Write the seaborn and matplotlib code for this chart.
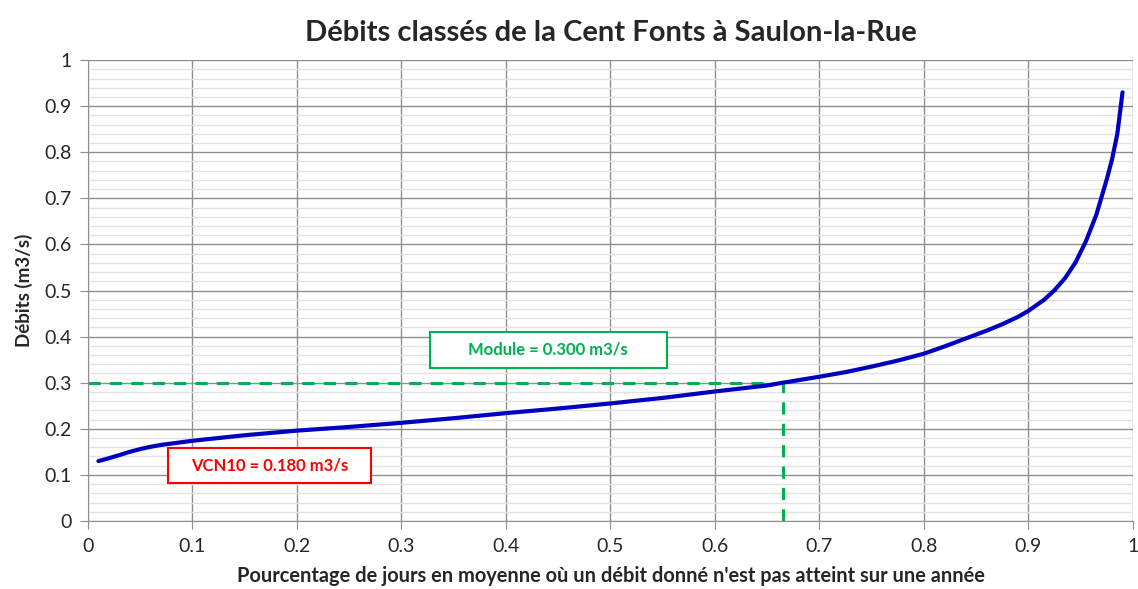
import seaborn as sns
import matplotlib.pyplot as plt
import pandas as pd
import numpy as np
from matplotlib.patches import Rectangle

# Débits classés (fraction of days, discharge m3/s)
frequence = [0.01, 0.02, 0.03, 0.04, 0.05, 0.06, 0.07, 0.08, 0.10, 0.125,
             0.15, 0.20, 0.25, 0.30, 0.35, 0.40, 0.45, 0.50, 0.55, 0.60,
             0.65, 0.665, 0.70, 0.725, 0.75, 0.775, 0.80, 0.82, 0.84, 0.86,
             0.875, 0.89, 0.90, 0.915, 0.925, 0.935, 0.945, 0.955, 0.965,
             0.975, 0.98, 0.985, 0.99]
debit = [0.130, 0.136, 0.143, 0.150, 0.156, 0.161, 0.165, 0.168, 0.174, 0.180,
         0.186, 0.196, 0.204, 0.213, 0.223, 0.234, 0.244, 0.255, 0.267, 0.281,
         0.294, 0.300, 0.313, 0.323, 0.335, 0.348, 0.363, 0.379, 0.396, 0.413,
         0.427, 0.443, 0.456, 0.480, 0.501, 0.527, 0.561, 0.607, 0.665,
         0.742, 0.785, 0.840, 0.930]

module = 0.300
module_freq = 0.665
vcn10_label = "VCN10 = 0.180 m3/s"
module_label = "Module = 0.300 m3/s"

FONT = ["Lato", "DejaVu Sans"]


def main():
    sns.set_style("white")
    plt.rcParams["font.family"] = FONT

    df = pd.DataFrame({"freq": frequence, "debit": debit})

    fig = plt.figure(figsize=(11.38, 5.89), dpi=100)
    ax = fig.add_axes([0.0773, 0.1155, 0.9183, 0.7825])

    # grid
    ax.set_xticks(np.arange(0, 1.01, 0.1))
    ax.set_yticks(np.arange(0, 1.01, 0.1))
    ax.set_yticks(np.arange(0, 1.001, 0.02), minor=True)
    ax.grid(True, which="major", color="#8f8f8f", linewidth=1.0)
    ax.grid(True, which="minor", axis="y", color="#e2e2e2", linewidth=1.0)
    ax.set_axisbelow(True)

    # module reference lines
    ax.plot([0, module_freq], [module, module], color="#00b050",
            linestyle=(0, (4, 3)), linewidth=2.2)
    ax.plot([module_freq, module_freq], [0, module], color="#00b050",
            linestyle=(0, (4, 3)), linewidth=2.2)

    sns.lineplot(data=df, x="freq", y="debit", ax=ax, color="#0000c0",
                 linewidth=3, estimator=None, sort=False,
                 solid_joinstyle="round", solid_capstyle="round")

    ax.set_xlim(0, 1)
    ax.set_ylim(0, 1)
    labels = ["0", "0.1", "0.2", "0.3", "0.4", "0.5", "0.6",
              "0.7", "0.8", "0.9", "1"]
    ax.set_xticklabels(labels)
    ax.set_yticklabels(labels)
    ax.tick_params(axis="both", which="major", labelsize=14, length=6,
                   color="#8f8f8f", direction="out", pad=6)
    ax.tick_params(axis="y", which="minor", length=0)
    ax.tick_params(axis="both", which="both", left=True, bottom=True)
    for side in ["top", "right"]:
        ax.spines[side].set_visible(False)
    for side in ["left", "bottom"]:
        ax.spines[side].set_color("#8f8f8f")

    ax.set_title("Débits classés de la Cent Fonts à Saulon-la-Rue",
                 fontsize=21, fontweight="bold", pad=14)
    ax.set_xlabel("Pourcentage de jours en moyenne où un débit donné n'est pas atteint sur une année",
                  fontsize=14.4, fontweight="bold", labelpad=8)
    ax.set_ylabel("Débits (m3/s)", fontsize=13.5, fontweight="bold", labelpad=8)

    # annotation boxes
    ax.add_patch(Rectangle((0.327, 0.332), 0.227, 0.078, fc="white",
                           ec="#00b050", lw=1.5, zorder=4))
    ax.text(0.4405, 0.371, module_label, ha="center", va="center",
            fontsize=12, fontweight="bold", color="#00b050", zorder=5)
    ax.add_patch(Rectangle((0.077, 0.082), 0.194, 0.076, fc="white",
                           ec="#ff0000", lw=1.5, zorder=4))
    ax.text(0.174, 0.120, vcn10_label, ha="center", va="center",
            fontsize=12, fontweight="bold", color="#ff0000", zorder=5)

    fig.savefig("out.png", dpi=100)


if __name__ == "__main__":
    main()
